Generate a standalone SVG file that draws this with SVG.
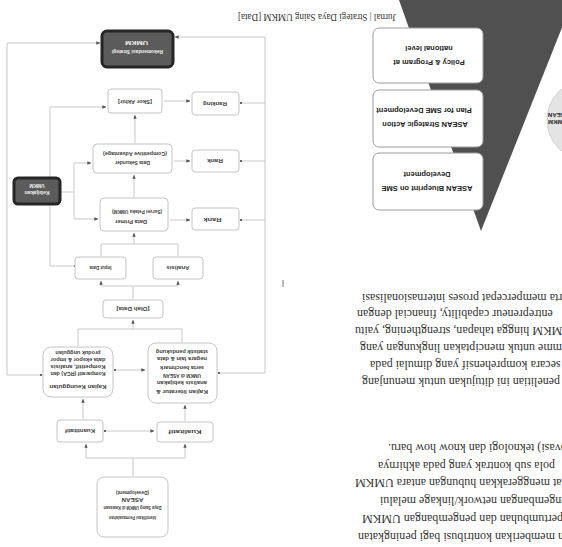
<svg xmlns="http://www.w3.org/2000/svg" width="562" height="547" viewBox="0 0 562 547">
<defs>
<style>
.bx{fill:#fff;stroke:#c4c4c4;stroke-width:1}
.dk{fill:#5b5b5b;stroke:#262626;stroke-width:3}
.pb{fill:#fff;stroke:#9c9c9c;stroke-width:1}
.cn{fill:none;stroke:#c8c8c8;stroke-width:1}
.lb{font-family:"Liberation Sans",Arial,sans-serif;font-size:5px;font-weight:bold;fill:#3a3a3a;text-anchor:middle}
.lw{font-family:"Liberation Sans",Arial,sans-serif;font-size:6px;font-weight:bold;fill:#f2f2f2;text-anchor:middle}
.pt{font-family:"Liberation Sans",Arial,sans-serif;font-size:7.5px;font-weight:bold;fill:#222;text-anchor:middle}
.tx{font-family:"Liberation Serif","Times New Roman",serif;font-size:12px;fill:#333;text-anchor:end}
.ft{font-family:"Liberation Serif","Times New Roman",serif;font-size:9.5px;fill:#333}
</style>
<marker id="ah" viewBox="0 0 6 6" refX="5.5" refY="3" markerWidth="4" markerHeight="4" markerUnits="userSpaceOnUse" orient="auto"><path d="M0,0.5L6,3L0,5.5z" fill="#555"/></marker>
<marker id="dt" viewBox="0 0 4 4" refX="2" refY="2" markerWidth="2.6" markerHeight="2.6" markerUnits="userSpaceOnUse"><circle cx="2" cy="2" r="2" fill="#666"/></marker>
</defs>
<rect width="562" height="547" fill="#fff"/>
<!-- the page is printed upside down: everything below is laid out upright, then turned -->
<g id="page" transform="rotate(180 281 273.5)">

<!-- pyramid of policy levels -->
<g id="pyramid">
<polygon points="-11,547 163,547 81,316" fill="#505050"/>
<g id="level-blueprint"><rect class="pb" x="79" y="337" width="110" height="57" rx="6"/><text class="pt" x="135" y="360.7">ASEAN Blueprint on SME</text><text class="pt" x="135" y="374.7">Development</text></g>
<g id="level-action-plan"><rect class="pb" x="79" y="400" width="110" height="57" rx="6"/><text class="pt" x="137" y="424.7">ASEAN Strategic Action</text><text class="pt" x="138" y="438.7">Plan for SME Development</text></g>
<g id="level-national"><rect class="pb" x="79" y="464" width="110" height="55" rx="6"/><text class="pt" x="133" y="486.7">Policy &amp; Program at</text><text class="pt" x="133" y="500.7">national level</text></g>
</g>

<g id="badge">
<circle cx="-25" cy="427" r="40" fill="#e4e4e4" stroke="#cfcfcf"/>
<text class="lb" style="text-anchor:end;font-size:6px;fill:#222" x="14" y="427">UMKM</text>
<text class="lb" style="text-anchor:end;font-size:6px;fill:#222" x="14" y="434">ASEAN</text>
</g>

<!-- body text -->
<g id="body-text">
<text class="tx" x="204" y="14.5">dan memberikan kontribusi bagi peningkatan</text>
<text class="tx" x="200" y="32.5">pertumbuhan dan pengembangan UMKM</text>
<text class="tx" x="182" y="50.5">pengembangan network/linkage melalui</text>
<text class="tx" x="207" y="68.5">dapat menggerakkan hubungan antara UMKM</text>
<text class="tx" x="184" y="85.5">pola sub kontrak yang pada akhirnya</text>
<text class="tx" x="174" y="103.5">alih (inovasi) teknologi dan know how baru.</text>
<text class="tx" x="200" y="169.5">penelitian ini ditujukan untuk menunjang</text>
<text class="tx" x="192" y="186.5">secara komprehensif yang dimulai pada</text>
<text class="tx" x="202" y="203.5">programme untuk menciptakan lingkungan yang</text>
<text class="tx" x="207" y="220.5">UMKM hingga tahapan, strengthening, yaitu</text>
<text class="tx" x="205" y="237.5">entrepreneur capability, financial dengan</text>
<text class="tx" x="200" y="253.5">serta mempercepat proses internasionalisasi</text>
</g>

<line x1="279" y1="260" x2="279" y2="267" stroke="#777" stroke-width="1"/>

<text id="footer" class="ft" x="166" y="533" textLength="158" lengthAdjust="spacingAndGlyphs">Jurnal | Strategi Daya Saing UMKM [Data]</text>

<!-- flowchart connectors -->
<g id="connectors">
<path class="cn" d="M521,172H555V504H462" marker-start="url(#dt)" marker-end="url(#ah)"/>
<path class="cn" d="M343,174H297V510H387" marker-start="url(#dt)" marker-end="url(#ah)"/>
<path class="cn" d="M321,444H297" marker-start="url(#dt)"/>
<path class="cn" d="M321,386H297" marker-start="url(#dt)"/>
<path class="cn" d="M321,327H297" marker-start="url(#dt)"/>
<path class="cn" d="M398,446H372" marker-end="url(#ah)"/>
<path class="cn" d="M388,386H372" marker-end="url(#ah)"/>
<path class="cn" d="M392,327H372" marker-end="url(#ah)"/>
<path class="cn" d="M502,355H488"/>
<path class="cn" d="M488,384V328"/>
<path class="cn" d="M488,384H471" marker-end="url(#ah)"/>
<path class="cn" d="M488,328H464" marker-end="url(#ah)"/>
<path class="cn" d="M487,281H512V440H456" marker-start="url(#dt)" marker-end="url(#ah)"/>
<path class="cn" d="M427,404V432" marker-end="url(#ah)"/>
<path class="cn" d="M428,350V372" marker-end="url(#ah)"/>
<path class="cn" d="M461,291V303H384V291"/>
<path class="cn" d="M428,303V314" marker-end="url(#ah)"/>
<path class="cn" d="M429,248V261M384,261H461"/>
<path class="cn" d="M461,261V266" marker-end="url(#ah)"/>
<path class="cn" d="M384,261V266" marker-end="url(#ah)"/>
<path class="cn" d="M484,201V218H380V205"/>
<path class="cn" d="M429,218V227" marker-end="url(#ah)"/>
<path class="cn" d="M447,177H417" marker-start="url(#dt)" marker-end="url(#ah)"/>
<path class="cn" d="M479,128V148" marker-end="url(#ah)"/>
<path class="cn" d="M377,126V142" marker-end="url(#ah)"/>
<path class="cn" d="M457,116H408" marker-start="url(#dt)" marker-end="url(#ah)"/>
<path class="cn" d="M429,71V89M377,89H476"/>
<path class="cn" d="M476,89V103" marker-end="url(#ah)"/>
<path class="cn" d="M377,89V103" marker-end="url(#ah)"/>
</g>

<!-- flowchart nodes -->
<g id="node-issue"><rect class="bx" x="394" y="10" width="71" height="60" rx="7"/>
<text class="lb" x="429.5" y="30.8" textLength="47" lengthAdjust="spacingAndGlyphs">Identifikasi Permasalahan</text>
<text class="lb" x="429.5" y="40.8" textLength="58" lengthAdjust="spacingAndGlyphs">Daya Saing UMKM di Kawasan</text>
<text class="lb" x="429.5" y="48.8" textLength="22" lengthAdjust="spacingAndGlyphs">ASEAN</text>
<text class="lb" x="429.5" y="56" textLength="33" lengthAdjust="spacingAndGlyphs">(Development)</text></g>
<g id="node-quant"><rect class="bx" x="459" y="105" width="46" height="22" rx="3"/><text class="lb" x="482" y="117.8" textLength="30" lengthAdjust="spacingAndGlyphs">Kuantitatif</text></g>
<g id="node-qual"><rect class="bx" x="349" y="105" width="56" height="20" rx="3"/><text class="lb" x="377" y="116.8" textLength="33" lengthAdjust="spacingAndGlyphs">Kualitatif</text></g>
<g id="node-comparative"><rect class="bx" x="449" y="150" width="70" height="50" rx="8"/>
<text class="lb" x="484" y="161.8" textLength="57" lengthAdjust="spacingAndGlyphs">Kajian Keunggulan</text>
<text class="lb" x="484" y="174.8" textLength="55" lengthAdjust="spacingAndGlyphs">Komparatif (RCA) dan</text>
<text class="lb" x="484" y="181.8" textLength="55" lengthAdjust="spacingAndGlyphs">Kompetitif, analisis</text>
<text class="lb" x="484" y="188.8" textLength="55" lengthAdjust="spacingAndGlyphs">data ekspor &amp; impor</text>
<text class="lb" x="484" y="195.8" textLength="45" lengthAdjust="spacingAndGlyphs">produk unggulan</text></g>
<g id="node-literature"><rect class="bx" x="345" y="144" width="69" height="60" rx="8"/>
<text class="lb" x="380" y="156.8" textLength="52" lengthAdjust="spacingAndGlyphs">Kajian literatur &amp;</text>
<text class="lb" x="380" y="165.8" textLength="50" lengthAdjust="spacingAndGlyphs">analisis kebijakan</text>
<text class="lb" x="380" y="172.8" textLength="38" lengthAdjust="spacingAndGlyphs">UMKM di ASEAN</text>
<text class="lb" x="380" y="180.8" textLength="44" lengthAdjust="spacingAndGlyphs">serta benchmark</text>
<text class="lb" x="380" y="189.8" textLength="50" lengthAdjust="spacingAndGlyphs">negara lain &amp; data</text>
<text class="lb" x="380" y="196.8" textLength="52" lengthAdjust="spacingAndGlyphs">statistik pendukung</text></g>
<g id="node-process"><rect class="bx" x="399" y="229" width="60" height="18" rx="3"/><text class="lb" x="429" y="240.3" textLength="33" lengthAdjust="spacingAndGlyphs">[Olah Data]</text></g>
<g id="node-input"><rect class="bx" x="436" y="268" width="51" height="22" rx="3"/><text class="lb" x="461.5" y="280.8" textLength="22" lengthAdjust="spacingAndGlyphs">Input Data</text></g>
<g id="node-analysis"><rect class="bx" x="359" y="268" width="50" height="22" rx="3"/><text class="lb" x="384" y="280.8" textLength="23" lengthAdjust="spacingAndGlyphs">Analisis</text></g>
<g id="node-primary"><rect class="bx" x="394" y="316" width="68" height="33" rx="4"/>
<text class="lb" x="431" y="326.8" textLength="32" lengthAdjust="spacingAndGlyphs">Data Primer</text>
<text class="lb" x="425" y="336.8" textLength="50" lengthAdjust="spacingAndGlyphs">(Survei Pelaku UMKM)</text></g>
<g id="node-rank-primary"><rect class="bx" x="323" y="317" width="47" height="22" rx="3"/><text class="lb" x="349.5" y="328.8" textLength="18" lengthAdjust="spacingAndGlyphs">Rank</text></g>
<g id="node-secondary"><rect class="bx" x="390" y="374" width="79" height="29" rx="4"/>
<text class="lb" x="429.5" y="385.8" textLength="35" lengthAdjust="spacingAndGlyphs">Data Sekunder</text>
<text class="lb" x="427" y="394.8" textLength="64" lengthAdjust="spacingAndGlyphs">(Competitive Advantage)</text></g>
<g id="node-rank-secondary"><rect class="bx" x="323" y="375" width="47" height="22" rx="3"/><text class="lb" x="347" y="387.8" textLength="16" lengthAdjust="spacingAndGlyphs">Rank</text></g>
<g id="node-policy"><rect class="dk" x="502" y="343" width="46" height="26" rx="4"/>
<text class="lw" x="525" y="356" textLength="25" lengthAdjust="spacingAndGlyphs">Kebijakan</text>
<text class="lw" x="525" y="363" textLength="15" lengthAdjust="spacingAndGlyphs">UMKM</text></g>
<g id="node-score"><rect class="bx" x="400" y="434" width="54" height="24" rx="3"/><text class="lb" x="427" y="446.8" textLength="34" lengthAdjust="spacingAndGlyphs">[Skor Akhir]</text></g>
<g id="node-ranking"><rect class="bx" x="323" y="432" width="47" height="23" rx="3"/><text class="lb" x="347" y="445.3" textLength="24" lengthAdjust="spacingAndGlyphs">Ranking</text></g>
<g id="node-strategy"><rect class="dk" x="389" y="480" width="71" height="36" rx="5"/>
<text class="lw" x="424.5" y="497" textLength="51" lengthAdjust="spacingAndGlyphs">Rekomendasi Strategi</text>
<text class="lw" x="425.5" y="506" textLength="23" lengthAdjust="spacingAndGlyphs">UMKM</text></g>

</g>
</svg>
